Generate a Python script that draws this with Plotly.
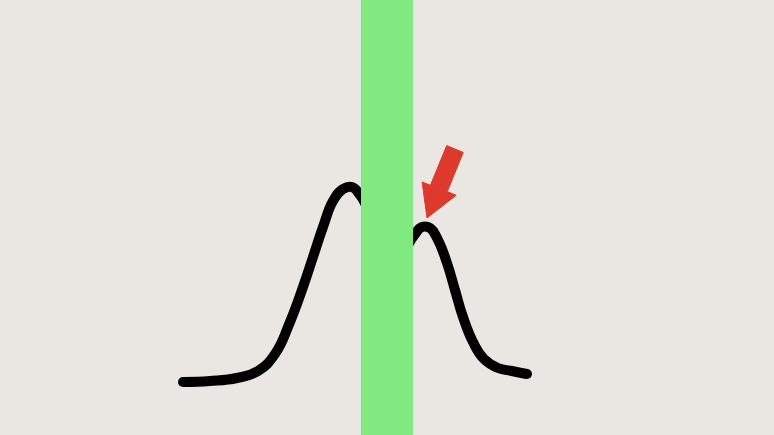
import plotly.graph_objects as go

# hand-drawn bell curve, pixel coords of the sketch (y grows downwards)
left_x = [183, 210, 237, 258, 275, 290, 303, 313, 323, 333, 343, 352, 360, 366]
left_y = [382, 381, 378, 371, 354, 322, 287, 257, 227, 201, 189, 187, 195, 205]
right_x = [408, 415, 422, 430, 438, 447, 455, 463, 473, 484, 498, 512, 527]
right_y = [245, 234, 227, 228, 240, 263, 290, 317, 342, 359, 368, 371, 374]

# vertical green band hiding the middle of the curve
band_x = [361, 413]

# red arrow outline
arrow_x = [446.7, 463.3, 447.3, 456.2, 427.0, 422.1, 430.4, 446.7]
arrow_y = [145.6, 152.4, 191.6, 195.3, 218.0, 181.9, 185.3, 145.6]

bg = '#EAE7E3'

fig = go.Figure()

for xs, ys in [(left_x, left_y), (right_x, right_y)]:
    fig.add_trace(go.Scatter(x=xs, y=ys, mode='lines',
                             line=dict(color='black', width=10, shape='spline', smoothing=1.3),
                             hoverinfo='skip'))
    fig.add_trace(go.Scatter(x=[xs[0], xs[-1]], y=[ys[0], ys[-1]], mode='markers',
                             marker=dict(color='black', size=10), hoverinfo='skip'))

fig.add_trace(go.Scatter(x=arrow_x, y=arrow_y, mode='lines', fill='toself',
                         fillcolor='#DD3A2E', line=dict(color='#DD3A2E', width=1),
                         hoverinfo='skip'))

fig.add_shape(type='rect', xref='x', yref='paper', x0=band_x[0], x1=band_x[1],
              y0=0, y1=1, fillcolor='#80EA80', line=dict(width=0), layer='above')

fig.update_layout(
    width=774, height=435,
    margin=dict(l=0, r=0, t=0, b=0),
    paper_bgcolor=bg, plot_bgcolor=bg,
    showlegend=False,
    xaxis=dict(range=[0, 774], visible=False, fixedrange=True),
    yaxis=dict(range=[435, 0], visible=False, fixedrange=True),
)

# drop the browser's default body margin so the figure fills the window
fig.write_html("out.html", config={'displayModeBar': False},
               post_script="document.body.style.margin='0';")
